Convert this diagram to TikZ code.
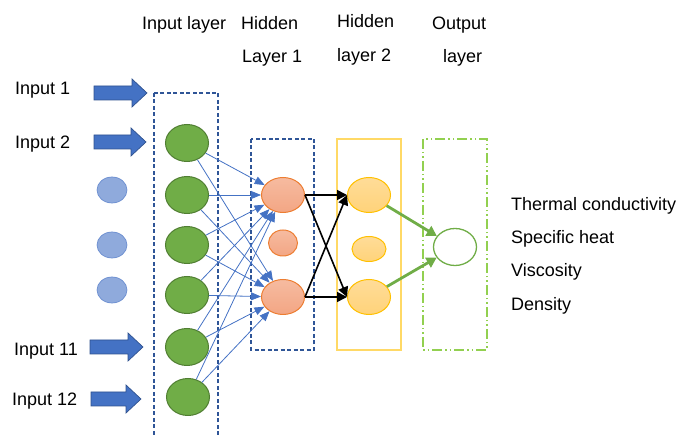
\documentclass[tikz,border=0pt]{standalone}
\usepackage{fontspec}
\setmainfont{Liberation Sans}
\usetikzlibrary{shapes.geometric,arrows.meta}
\definecolor{inblue}{HTML}{4472C4}
\definecolor{inblueedge}{HTML}{2F528F}
\definecolor{boxblue}{HTML}{2F5597}
\definecolor{dotblue}{HTML}{8FAADC}
\definecolor{dotblueedge}{HTML}{6A8DD0}
\definecolor{ingreen}{HTML}{70AD47}
\definecolor{ingreenedge}{HTML}{507E32}
\definecolor{orangetop}{HTML}{F6BBA0}
\definecolor{orangebot}{HTML}{F3A684}
\definecolor{orangeedge}{HTML}{ED7D31}
\definecolor{yellowtop}{HTML}{FFDC98}
\definecolor{yellowbot}{HTML}{FFD37A}
\definecolor{yellowedge}{HTML}{FFC000}
\definecolor{yellowbox}{HTML}{FFD966}
\definecolor{outbox}{HTML}{92D050}
\tikzset{
  lbl/.style={inner sep=0pt, anchor=base west, font=\fontsize{18}{22}\selectfont},
  inode/.style={ellipse, draw=ingreenedge, fill=ingreen, line width=1pt,
    minimum width=43pt, minimum height=37pt, inner sep=0pt},
  dotnode/.style={ellipse, draw=dotblueedge, fill=dotblue, line width=0.7pt,
    minimum width=30pt, minimum height=26pt, inner sep=0pt},
  hnode/.style={ellipse, draw=orangeedge, top color=orangetop, bottom color=orangebot,
    line width=1pt, minimum width=43pt, minimum height=35pt, inner sep=0pt},
  ynode/.style={ellipse, draw=yellowedge, top color=yellowtop, bottom color=yellowbot,
    line width=1pt, minimum width=43pt, minimum height=35pt, inner sep=0pt},
  onode/.style={ellipse, draw=ingreen, fill=white, line width=1.3pt,
    minimum width=43pt, minimum height=37pt, inner sep=0pt},
  layerbox/.style={draw=boxblue, line width=1.4pt, dash pattern=on 4pt off 2.5pt},
  thinedge/.style={draw=inblue, line width=0.8pt, -{Triangle[length=10pt,width=8pt]}},
  blackedge/.style={draw=black, line width=1.6pt, -{Triangle[length=10pt,width=10pt]}},
  greenedge/.style={draw=ingreen, line width=2.8pt, -{Triangle[length=10pt,width=11pt]}},
  blockarrow/.style={fill=inblue, draw=inblueedge, line width=0.7pt}
}
% block arrow: #1 tail x, #2 tip x, #3 centre y
\newcommand{\feedarrow}[3]{%
  \path[blockarrow] (#1,#3-7) -- (#2-15,#3-7) -- (#2-15,#3-14) -- (#2,#3)
    -- (#2-15,#3+14) -- (#2-15,#3+7) -- (#1,#3+7) -- cycle;}
\begin{document}
\begin{tikzpicture}[x=1pt,y=-1pt]
\useasboundingbox (0,0) rectangle (681,435);

% layer frames
\draw[layerbox] (154,93) rectangle (218,437);
\draw[layerbox] (251,139) rectangle (314,350);
\draw[yellowbox, line width=1.5pt] (337,139) rectangle (401,350);
\draw[outbox, line width=1.5pt, dash pattern=on 10pt off 3pt on 1.5pt off 3pt on 1.5pt off 3pt]
  (423,139) rectangle (487,350);

% headings
\node[lbl] (tIn) at (142,30) {Input layer};
\node[lbl] (tH1a) at (241,30) {Hidden};
\node[lbl] (tH1b) at (242,63) {Layer 1};
\node[lbl] (tH2a) at (337,28) {Hidden};
\node[lbl] (tH2b) at (337,62) {layer 2};
\node[lbl] (tOa) at (432,30) {Output};
\node[lbl] (tOb) at (443,63) {layer};

% input labels and feed arrows
\node[lbl] (l1) at (15,95) {Input 1};
\node[lbl] (l2) at (15,149) {Input 2};
\node[lbl] (l11) at (14,356) {Input 11};
\node[lbl] (l12) at (12,406) {Input 12};
\feedarrow{94}{147}{93}
\feedarrow{94}{146}{142}
\feedarrow{90}{143}{347}
\feedarrow{91}{141}{399}

% omitted inputs
\node[dotnode] (d1) at (112,190) {};
\node[dotnode] (d2) at (112,245) {};
\node[dotnode] (d3) at (112,290) {};

% input layer
\node[inode] (g1) at (187,143) {};
\node[inode] (g2) at (187,195) {};
\node[inode] (g3) at (187,245) {};
\node[inode] (g4) at (187,295) {};
\node[inode] (g5) at (187,347) {};
\node[inode] (g6) at (188,397) {};

% hidden layer 1
\node[hnode] (h1) at (283,195) {};
\node[hnode, minimum width=29pt, minimum height=26pt] (hm) at (283,243) {};
\node[hnode] (h2) at (283,297) {};

% hidden layer 2
\node[ynode] (y1) at (369,195) {};
\node[ynode, minimum width=34pt, minimum height=25pt] (ym) at (369,249) {};
\node[ynode] (y2) at (369,297) {};

% output layer
\node[onode] (o) at (455,247) {};

% outputs
\node[lbl] (r1) at (511,211) {Thermal conductivity};
\node[lbl] (r2) at (511,244) {Specific heat};
\node[lbl] (r3) at (511,277) {Viscosity};
\node[lbl] (r4) at (511,311) {Density};

% input -> hidden 1
\foreach \g in {g1,g2,g3,g4,g5,g6}{
  \draw[thinedge] (\g) -- (h1);
  \draw[thinedge] (\g) -- (h2);
}

% hidden 1 -> hidden 2
\draw[blackedge] (h1.east) -- (y1.west);
\draw[blackedge] (h1.east) -- (y2.west);
\draw[blackedge] (h2.east) -- (y1.west);
\draw[blackedge] (h2.east) -- (y2.west);

% hidden 2 -> output
\draw[greenedge] (y1) -- (o);
\draw[greenedge] (y2) -- (o);
\end{tikzpicture}
\end{document}
